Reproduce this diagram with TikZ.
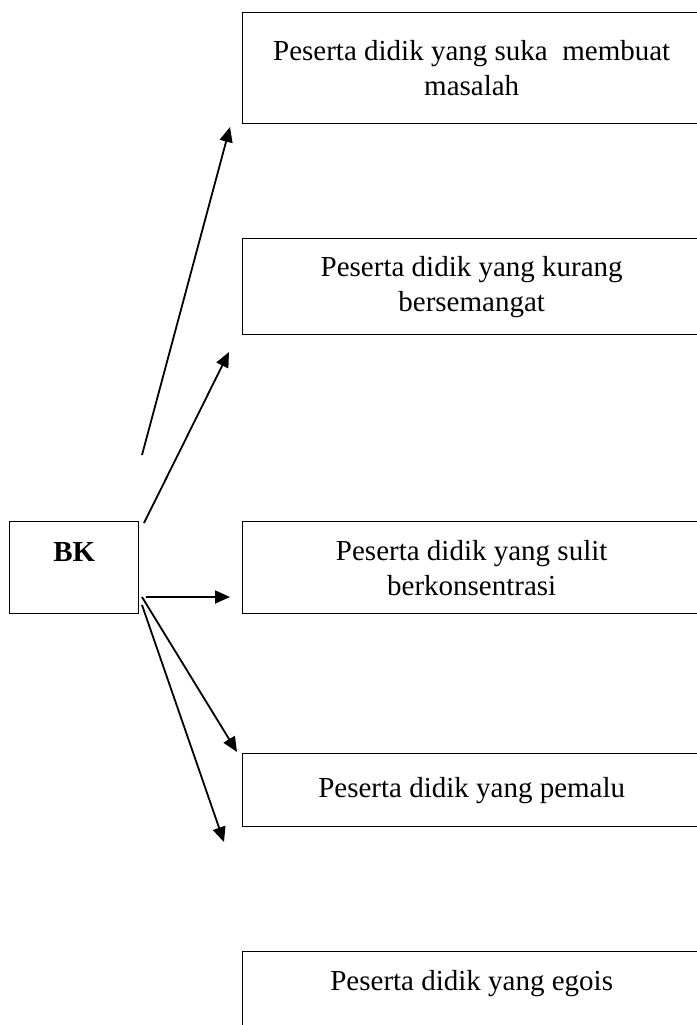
\documentclass[tikz,border=0pt]{standalone}
\usepackage{fontspec}
\setmainfont{Liberation Serif}
\usetikzlibrary{arrows.meta}

\begin{document}
\begin{tikzpicture}[x=1pt,y=-1pt]
    \tikzstyle{every node}=[font=\fontsize{29}{35}\selectfont]
    \tikzstyle{kotak}=[draw,line width=1.4pt,minimum width=458pt,inner sep=0pt,align=center,anchor=north west]
    \tikzstyle{panah}=[line width=1.8pt,-{Triangle[length=15pt,width=13pt]}]

    \useasboundingbox (0,0) rectangle (696,1025);

    % Kotak BK (teks di bagian atas)
    \node[draw,line width=1.4pt,minimum width=129pt,inner sep=0pt,
          text height=40pt,text depth=52pt,anchor=north west,font=\fontsize{29}{35}\selectfont\bfseries]
          (BK) at (9,521) {BK};

    % Kotak-kotak peserta didik
    \node[kotak,minimum height=111pt] (P-1) at (242,12)  {Peserta didik yang suka\ \ membuat\\masalah};
    \node[kotak,minimum height=96pt]  (P-2) at (242,238) {Peserta didik yang kurang\\bersemangat};
    \node[kotak,minimum height=92pt]  (P-3) at (242,521) {Peserta didik yang sulit\\berkonsentrasi};
    \node[kotak,minimum height=73pt]  (P-4) at (242,753) {Peserta didik yang pemalu};
    % kotak terakhir terpotong di bawah
    \node[kotak,text height=39pt,text depth=70pt] (P-5) at (242,951) {Peserta didik yang egois};

    % Ujung-ujung panah
    \coordinate (A-1) at (142,455);
    \coordinate (A-2) at (144,523);
    \coordinate (A-3) at (146,597);
    \coordinate (A-4) at (142,597);
    \coordinate (A-5) at (142,605);
    \coordinate (B-1) at (230,127);
    \coordinate (B-2) at (229,352);
    \coordinate (B-3) at (230,597);
    \coordinate (B-4) at (237,752);
    \coordinate (B-5) at (224,842);

    % Panah dari BK
    \foreach \n in {1,...,5}
        \draw[panah] (A-\n) -- (B-\n);
\end{tikzpicture}
\end{document}
